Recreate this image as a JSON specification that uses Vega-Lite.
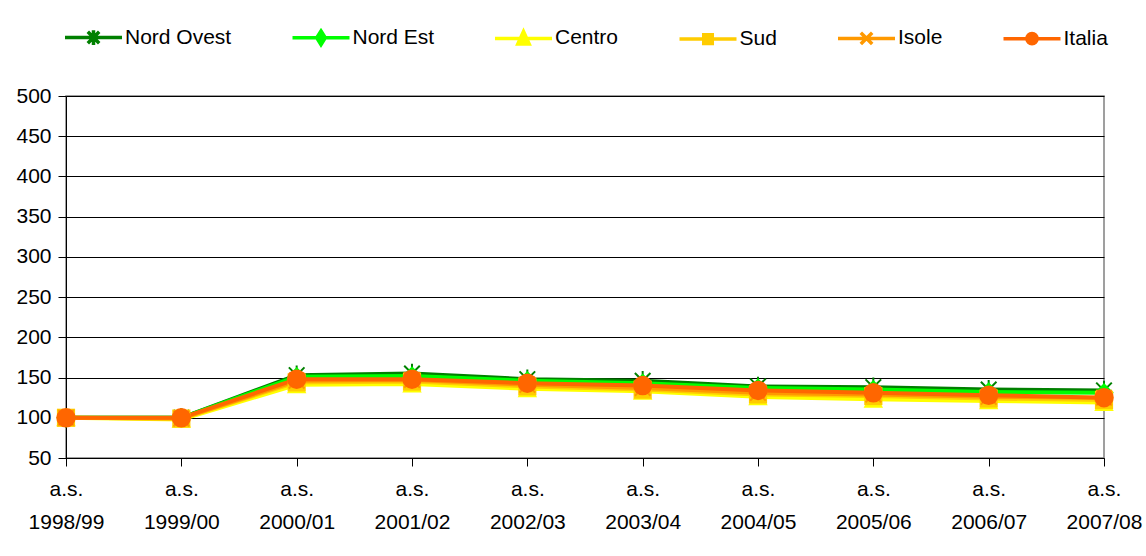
{
  "$schema": "https://vega.github.io/schema/vega-lite/v6.json",
  "autosize": {"type": "none"},
  "padding": {"left": 66, "top": 96, "right": 42, "bottom": 98},
  "width": 1038,
  "height": 362,
  "background": "white",
  "config": {
    "font": "Liberation Sans",
    "view": {"stroke": "#808080", "strokeWidth": 1.5}
  },
  "data": {
    "values": [
      {"anno": "a.s. 1998/99", "region": "Nord Ovest", "v": 100},
      {"anno": "a.s. 1999/00", "region": "Nord Ovest", "v": 100},
      {"anno": "a.s. 2000/01", "region": "Nord Ovest", "v": 153},
      {"anno": "a.s. 2001/02", "region": "Nord Ovest", "v": 155},
      {"anno": "a.s. 2002/03", "region": "Nord Ovest", "v": 148},
      {"anno": "a.s. 2003/04", "region": "Nord Ovest", "v": 146},
      {"anno": "a.s. 2004/05", "region": "Nord Ovest", "v": 139},
      {"anno": "a.s. 2005/06", "region": "Nord Ovest", "v": 138},
      {"anno": "a.s. 2006/07", "region": "Nord Ovest", "v": 135},
      {"anno": "a.s. 2007/08", "region": "Nord Ovest", "v": 134},
      {"anno": "a.s. 1998/99", "region": "Nord Est", "v": 100},
      {"anno": "a.s. 1999/00", "region": "Nord Est", "v": 100},
      {"anno": "a.s. 2000/01", "region": "Nord Est", "v": 151},
      {"anno": "a.s. 2001/02", "region": "Nord Est", "v": 152},
      {"anno": "a.s. 2002/03", "region": "Nord Est", "v": 146},
      {"anno": "a.s. 2003/04", "region": "Nord Est", "v": 143},
      {"anno": "a.s. 2004/05", "region": "Nord Est", "v": 137},
      {"anno": "a.s. 2005/06", "region": "Nord Est", "v": 135},
      {"anno": "a.s. 2006/07", "region": "Nord Est", "v": 132},
      {"anno": "a.s. 2007/08", "region": "Nord Est", "v": 131},
      {"anno": "a.s. 1998/99", "region": "Centro", "v": 100},
      {"anno": "a.s. 1999/00", "region": "Centro", "v": 98},
      {"anno": "a.s. 2000/01", "region": "Centro", "v": 141},
      {"anno": "a.s. 2001/02", "region": "Centro", "v": 142},
      {"anno": "a.s. 2002/03", "region": "Centro", "v": 136},
      {"anno": "a.s. 2003/04", "region": "Centro", "v": 133},
      {"anno": "a.s. 2004/05", "region": "Centro", "v": 126},
      {"anno": "a.s. 2005/06", "region": "Centro", "v": 123},
      {"anno": "a.s. 2006/07", "region": "Centro", "v": 121},
      {"anno": "a.s. 2007/08", "region": "Centro", "v": 119},
      {"anno": "a.s. 1998/99", "region": "Sud", "v": 100},
      {"anno": "a.s. 1999/00", "region": "Sud", "v": 99},
      {"anno": "a.s. 2000/01", "region": "Sud", "v": 144},
      {"anno": "a.s. 2001/02", "region": "Sud", "v": 145},
      {"anno": "a.s. 2002/03", "region": "Sud", "v": 139},
      {"anno": "a.s. 2003/04", "region": "Sud", "v": 135},
      {"anno": "a.s. 2004/05", "region": "Sud", "v": 129},
      {"anno": "a.s. 2005/06", "region": "Sud", "v": 127},
      {"anno": "a.s. 2006/07", "region": "Sud", "v": 124},
      {"anno": "a.s. 2007/08", "region": "Sud", "v": 122},
      {"anno": "a.s. 1998/99", "region": "Isole", "v": 100},
      {"anno": "a.s. 1999/00", "region": "Isole", "v": 99},
      {"anno": "a.s. 2000/01", "region": "Isole", "v": 146},
      {"anno": "a.s. 2001/02", "region": "Isole", "v": 147},
      {"anno": "a.s. 2002/03", "region": "Isole", "v": 141},
      {"anno": "a.s. 2003/04", "region": "Isole", "v": 137},
      {"anno": "a.s. 2004/05", "region": "Isole", "v": 131},
      {"anno": "a.s. 2005/06", "region": "Isole", "v": 129},
      {"anno": "a.s. 2006/07", "region": "Isole", "v": 126},
      {"anno": "a.s. 2007/08", "region": "Isole", "v": 125},
      {"anno": "a.s. 1998/99", "region": "Italia", "v": 100},
      {"anno": "a.s. 1999/00", "region": "Italia", "v": 100},
      {"anno": "a.s. 2000/01", "region": "Italia", "v": 148},
      {"anno": "a.s. 2001/02", "region": "Italia", "v": 148},
      {"anno": "a.s. 2002/03", "region": "Italia", "v": 143},
      {"anno": "a.s. 2003/04", "region": "Italia", "v": 140},
      {"anno": "a.s. 2004/05", "region": "Italia", "v": 134},
      {"anno": "a.s. 2005/06", "region": "Italia", "v": 131},
      {"anno": "a.s. 2006/07", "region": "Italia", "v": 128},
      {"anno": "a.s. 2007/08", "region": "Italia", "v": 125}
    ]
  },
  "encoding": {
    "x": {
      "field": "anno",
      "type": "ordinal",
      "sort": null,
      "scale": {"type": "point", "padding": 0},
      "axis": {
        "title": null,
        "labelAngle": 0,
        "labelExpr": "split(datum.label, ' ')",
        "labelFont": "Liberation Sans",
        "labelFontSize": 21,
        "labelColor": "black",
        "labelLineHeight": 33,
        "labelPadding": 12,
        "labelBaseline": "top",
        "tickSize": 8,
        "tickColor": "black",
        "domainColor": "black",
        "grid": false,
        "labelOverlap": false
      }
    },
    "y": {
      "field": "v",
      "type": "quantitative",
      "scale": {"domain": [50, 500], "nice": false, "zero": false},
      "axis": {
        "title": null,
        "values": [50, 100, 150, 200, 250, 300, 350, 400, 450, 500],
        "labelFont": "Liberation Sans",
        "labelFontSize": 21,
        "labelColor": "black",
        "labelPadding": 7,
        "tickSize": 8,
        "tickColor": "black",
        "domainColor": "black",
        "grid": true,
        "gridColor": "black",
        "gridOpacity": 1,
        "gridWidth": 1
      }
    },
    "color": {
      "field": "region",
      "type": "nominal",
      "sort": null,
      "scale": {
        "domain": ["Nord Ovest", "Nord Est", "Centro", "Sud", "Isole", "Italia"],
        "range": ["#008000", "#00FF00", "#FFFF00", "#FFCC00", "#FF9900", "#FF6600"]
      },
      "legend": {
        "title": null,
        "orient": "none",
        "direction": "horizontal",
        "columns": 6,
        "legendX": -3,
        "legendY": -89,
        "padding": 0,
        "columnPadding": 53.5,
        "symbolSize": 3249,
        "symbolStrokeWidth": 3.5,
        "symbolOpacity": 1,
        "symbolFillColor": {"expr": "scale('color', datum.value)"},
        "symbolStrokeColor": {"expr": "scale('color', datum.value)"},
        "symbolType": {"expr": "datum.value==='Nord Ovest'?'M-1,0H1M0,-0.26V0.26M-0.2,-0.2L0.2,0.2M-0.2,0.2L0.2,-0.2':datum.value==='Nord Est'?'M-1,0H1M0,-0.24L0.15,0L0,0.24L-0.15,0Z':datum.value==='Centro'?'M-1,0H1M0,-0.24L0.2,0.2L-0.2,0.2Z':datum.value==='Sud'?'M-1,0H1M-0.15,-0.15H0.15V0.15H-0.15Z':datum.value==='Isole'?'M-1,0H1M-0.2,-0.2L0.2,0.2M-0.2,0.2L0.2,-0.2':'M-1,0H1M-0.18,0A0.18,0.18,0,1,1,0.18,0A0.18,0.18,0,1,1,-0.18,0Z'"},
        "labelFont": "Liberation Sans",
        "labelFontSize": 21,
        "labelColor": "black",
        "labelOffset": 1,
        "labelLimit": 300
      }
    }
  },
  "layer": [
    {
      "mark": {"type": "line", "strokeWidth": 4}
    },
    {
      "transform": [{"filter": "datum.region === 'Nord Ovest'"}],
      "mark": {"type": "point", "filled": false, "size": 380, "strokeWidth": 2, "opacity": 1, "shape": "M0,-1V1M-0.8,-0.8L0.8,0.8M-0.8,0.8L0.8,-0.8"}
    },
    {
      "transform": [{"filter": "datum.region === 'Nord Est'"}],
      "mark": {"type": "point", "filled": true, "size": 380, "opacity": 1, "shape": "diamond"}
    },
    {
      "transform": [{"filter": "datum.region === 'Centro'"}],
      "mark": {"type": "point", "filled": true, "size": 380, "opacity": 1, "shape": "triangle-up"}
    },
    {
      "transform": [{"filter": "datum.region === 'Sud'"}],
      "mark": {"type": "point", "filled": true, "size": 330, "opacity": 1, "shape": "square"}
    },
    {
      "transform": [{"filter": "datum.region === 'Isole'"}],
      "mark": {"type": "point", "filled": false, "size": 380, "strokeWidth": 2, "opacity": 1, "shape": "M-0.8,-0.8L0.8,0.8M-0.8,0.8L0.8,-0.8"}
    },
    {
      "transform": [{"filter": "datum.region === 'Italia'"}],
      "mark": {"type": "point", "filled": true, "size": 380, "opacity": 1, "shape": "circle"}
    }
  ]
}
